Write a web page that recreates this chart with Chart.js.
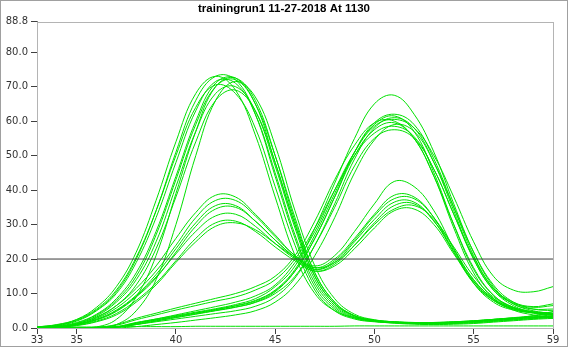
<!DOCTYPE html>
<html>
<head>
<meta charset="utf-8">
<script src="https://cdn.jsdelivr.net/npm/chart.js@4.4.1/dist/chart.umd.min.js"></script>
<style>
  html, body { margin: 0; padding: 0; background: #fff; }
  #wrap { position: relative; width: 568px; height: 347px; }
</style>
</head>
<body>
<div id="wrap"><canvas id="meltChart" width="568" height="347"></canvas></div>
<script>
// Chart data
const chartTitle = 'trainingrun1 11-27-2018 At 1130';
const xValues = [33, 34, 35, 36, 37, 38, 39, 40, 41, 42, 43, 44, 45, 46, 47, 48, 49, 50, 51, 52, 53, 54, 55, 56, 57, 58, 59];
const xTicks = [33, 35, 40, 45, 50, 55, 59];
const yTicks = [0, 10, 20, 30, 40, 50, 60, 70, 80, 88.8];
const threshold = 20;

// tall peaks around 42
const earlyPeakCurves = [
  [0.3, 1, 2.5, 6, 12, 22, 37, 54, 68, 73, 69, 56, 38, 21, 10, 5, 3, 2.2, 1.8, 1.6, 1.6, 1.8, 2.1, 2.5, 2.9, 3.2, 3.4],
  [0.2, 0.6, 1.6, 4, 8.5, 16, 28, 44, 60, 71, 72.5, 65, 48, 30, 15, 7, 3.5, 2.3, 1.8, 1.5, 1.4, 1.5, 1.8, 2.2, 2.6, 3, 3.3],
  [0.2, 0.7, 2, 5, 10, 19, 32, 48, 63, 71.5, 71, 62, 45, 27, 13, 6, 3, 2, 1.6, 1.4, 1.4, 1.6, 1.9, 2.3, 2.8, 3.2, 3.6],
  [0.1, 0.4, 1.2, 3.5, 7.5, 14, 25, 41, 57, 68, 70, 63, 47, 29, 14, 6.5, 3.2, 2.1, 1.7, 1.5, 1.5, 1.7, 2, 2.5, 3, 3.5, 4],
  [0.1, 0.3, 1, 3, 6.5, 12.5, 23, 38, 54, 66, 69, 63, 48, 30, 15, 7, 3.5, 2.2, 1.6, 1.3, 1.2, 1.3, 1.6, 2, 2.4, 2.8, 3.1],
  [0, 0, 0, 0.3, 2.5, 9, 21, 39, 57, 70, 72.5, 66, 50, 31, 16, 7.5, 3.5, 2, 1.4, 1.1, 1, 1.1, 1.3, 1.7, 2.1, 2.5, 2.8],
  [0, 0, 0, 0.1, 1, 5, 14, 30, 50, 66, 71.5, 67, 53, 34, 18, 8.5, 4, 2.4, 1.8, 1.6, 1.6, 1.8, 2.1, 2.5, 2.9, 3.2, 3.5],
  [0.3, 0.8, 2.2, 5.2, 10.5, 20, 34, 51, 66, 73, 72, 62, 44, 26, 12, 5.5, 2.8, 1.9, 1.5, 1.3, 1.3, 1.5, 1.8, 2.2, 2.6, 3, 3.3],
  [0.3, 0.9, 2.4, 5.5, 11, 20.5, 34, 50, 64, 70.5, 68, 58, 41, 24, 11, 5, 2.6, 1.8, 1.5, 1.4, 1.5, 1.7, 2, 2.4, 2.8, 3.6, 4.8],
  [0.1, 0.5, 1.4, 3.8, 8, 15, 27, 43, 59, 70, 72, 65, 50, 32, 16, 7.5, 3.6, 2.2, 1.6, 1.3, 1.2, 1.3, 1.5, 1.9, 2.3, 2.7, 3]
];

// tall peaks around 51
const latePeakCurves = [
  [0, 0, 0, 0, 0.4, 1.6, 2.6, 3.6, 4.6, 5.6, 6.8, 8.5, 12, 18, 29, 42, 55, 65, 67.5, 62, 51, 36, 22, 12, 7, 5.5, 5.5],
  [0, 0, 0, 0, 0.3, 1.4, 2.4, 3.4, 4.4, 5.4, 6.5, 8, 11, 17, 27, 39, 51, 59, 61.5, 57, 45, 30, 17, 9.5, 6, 4.5, 3.8],
  [0, 0, 0, 0, 0.2, 1, 1.8, 2.6, 3.4, 4.2, 5, 6.3, 9, 14.5, 24, 36, 49, 58, 61, 58, 48, 34, 20, 11, 6.5, 4.5, 3.2],
  [0, 0, 0, 0, 0.3, 1.5, 2.6, 3.8, 5, 6.2, 7.5, 9.3, 12.5, 19, 28, 40, 51, 58.5, 60.5, 58, 50, 38, 25, 15, 11, 10.5, 12],
  [0, 0, 0, 0, 0.2, 1, 2, 3, 4, 5, 6, 7.5, 10.5, 16.5, 26, 38, 50, 57.5, 59.5, 55, 44, 29, 16, 8.5, 5.2, 3.8, 2.8],
  [0, 0, 0, 0.2, 0.8, 2.4, 3.8, 5.2, 6.5, 7.8, 9, 11, 14, 20, 29, 40, 50, 56.5, 58.5, 55.5, 46, 33, 20, 11, 7.2, 6, 6.5],
  [0, 0, 0, 0, 0.2, 1.1, 2.1, 3.1, 4.1, 5.1, 6.1, 7.4, 10, 15, 24, 35, 47, 55, 57.5, 55, 46, 33, 20.5, 11.5, 7.5, 6.2, 7],
  [0, 0, 0, 0, 0.3, 1.3, 2.3, 3.3, 4.3, 5.3, 6.4, 7.8, 10.8, 16.5, 26, 38, 51, 59.5, 62, 59, 49, 35, 21, 11.5, 7, 5, 4.2],
  [0, 0, 0, 0.2, 1, 2.8, 4.3, 5.8, 7.2, 8.6, 10, 12, 15, 21, 31, 43, 53, 59.5, 60, 55, 44, 30, 17.5, 9.5, 6, 4.6, 4],
  [0, 0, 0, 0, 0, 0.4, 1, 1.6, 2.3, 3, 3.8, 5, 7.5, 12.5, 21, 32, 45, 54.5, 59, 57, 48, 35, 22, 12.5, 7.5, 5.5, 5]
];

// medium curves with two peaks (42 and 51)
const doublePeakCurves = [
  [0, 0.4, 1.3, 3.2, 6.5, 11.5, 18, 26, 33.5, 38.5, 38, 33, 27, 21, 18, 21, 28, 36, 42.5, 41, 34, 23, 13, 7.5, 5.2, 4.5, 4.3],
  [0, 0.3, 1.1, 2.8, 5.8, 10.5, 16.5, 24, 32, 37, 37, 32.5, 26.5, 21, 17.5, 20, 26, 33, 38.5, 38, 32, 22, 13, 8, 5.5, 4.5, 4],
  [0, 0.3, 1, 2.5, 5.2, 9.5, 15.5, 23, 30.5, 35.5, 35.5, 31, 25.5, 20.5, 17, 19.5, 25.5, 32.5, 37.5, 37.5, 32, 23, 14, 8.5, 5.8, 4.6, 4.2],
  [0, 0.2, 0.9, 2.3, 4.8, 9, 14.5, 22, 29.5, 34.5, 35, 31, 25.5, 20.5, 17, 19, 25, 31.5, 36.5, 36.5, 31, 22, 13.5, 8, 5.5, 4.3, 3.8],
  [0, 0.3, 1, 2.5, 5, 9.2, 14.8, 21.5, 28, 32.5, 33, 29.5, 24.5, 20, 16.5, 18.5, 24, 30.5, 35.5, 36, 31, 22.5, 14, 8.5, 5.8, 4.5, 4],
  [0, 0.2, 0.8, 2, 4.2, 8, 13, 19.5, 26, 30.5, 31, 28, 23.5, 19.5, 16.5, 18, 23, 29, 34, 34.5, 30, 21.5, 13.5, 8.2, 5.6, 4.4, 3.8],
  [0, 0.2, 0.7, 1.8, 3.8, 7.5, 12.5, 19, 25, 29.5, 30.5, 28.5, 24.5, 20.5, 17.5, 19, 24, 30, 34.5, 35.5, 31.5, 23.5, 15, 9, 6, 4.8, 4.3]
];

// flat negative control
const flatCurves = [
  [0.3, 0.3, 0.3, 0.3, 0.4, 0.4, 0.4, 0.4, 0.5, 0.5, 0.5, 0.5, 0.5, 0.5, 0.5, 0.5, 0.6, 0.6, 0.6, 0.6, 0.6, 0.6, 0.6, 0.6, 0.6, 0.6, 0.6]
];

const curveColor = 'rgb(0, 224, 0)';

function toPoints(values) {
  return values.map((v, i) => ({ x: xValues[i], y: v }));
}

const allCurves = [...earlyPeakCurves, ...latePeakCurves, ...doublePeakCurves, ...flatCurves];

const datasets = allCurves.map(values => ({
  data: toPoints(values),
  borderColor: curveColor,
  borderWidth: 1,
  pointRadius: 0,
  tension: 0.4,
  fill: false
}));

// threshold line
datasets.push({
  data: [{ x: xValues[0], y: threshold }, { x: xValues[xValues.length - 1], y: threshold }],
  borderColor: '#3a3a3a',
  borderWidth: 1,
  pointRadius: 0,
  tension: 0,
  order: -1
});

// frame around plot area and whole picture
const framePlugin = {
  id: 'frame',
  beforeDatasetsDraw(chart) {
    const { ctx, chartArea } = chart;
    ctx.save();
    ctx.strokeStyle = '#b4b4b4';
    ctx.lineWidth = 1;
    ctx.strokeRect(Math.round(chartArea.left) + 0.5, Math.round(chartArea.top) + 0.5,
      Math.round(chartArea.right - chartArea.left), Math.round(chartArea.bottom - chartArea.top));
    ctx.restore();
  },
  afterDraw(chart) {
    const ctx = chart.ctx;
    ctx.save();
    ctx.strokeStyle = '#a0a0a0';
    ctx.lineWidth = 1;
    ctx.strokeRect(0.5, 0.5, chart.width - 1, chart.height - 1);
    ctx.restore();
  }
};

const tickFont = { family: 'DejaVu Sans', size: 10 };

const ctxMelt = document.getElementById('meltChart').getContext('2d');
const meltChart = new Chart(ctxMelt, {
  type: 'line',
  data: { datasets: datasets },
  options: {
    responsive: false,
    animation: false,
    events: [],
    layout: { padding: 0 },
    plugins: {
      legend: { display: false },
      tooltip: { enabled: false },
      title: {
        display: true,
        text: chartTitle,
        color: '#000',
        font: { family: 'Liberation Sans', size: 11.5, weight: 'bold' },
        padding: { top: 2, bottom: 6 }
      }
    },
    scales: {
      x: {
        type: 'linear',
        min: 33,
        max: 59,
        afterBuildTicks: scale => { scale.ticks = xTicks.map(v => ({ value: v })); },
        afterFit: scale => { scale.height = 19; },
        ticks: {
          autoSkip: false,
          maxRotation: 0,
          color: '#333',
          font: tickFont,
          padding: 0,
          callback: v => String(v)
        },
        grid: { drawOnChartArea: false, drawTicks: true, tickLength: 6, tickColor: '#404040' },
        border: { display: true, color: '#808080' }
      },
      y: {
        min: 0,
        max: 88.8,
        afterBuildTicks: scale => { scale.ticks = yTicks.map(v => ({ value: v })); },
        afterFit: scale => { scale.width = 37; },
        ticks: {
          autoSkip: false,
          color: '#333',
          font: tickFont,
          padding: 3,
          callback: v => Number(v).toFixed(1)
        },
        grid: { drawOnChartArea: false, drawTicks: true, tickLength: 6, tickColor: '#404040' },
        border: { display: true, color: '#808080' }
      },
      // empty right margin so the title stays centred on the whole picture
      yRight: {
        position: 'right',
        min: 0,
        max: 88.8,
        afterFit: scale => { scale.width = 15; },
        ticks: { display: false },
        grid: { display: false, drawTicks: false },
        border: { display: false }
      }
    }
  },
  plugins: [framePlugin]
});
</script>
</body>
</html>
